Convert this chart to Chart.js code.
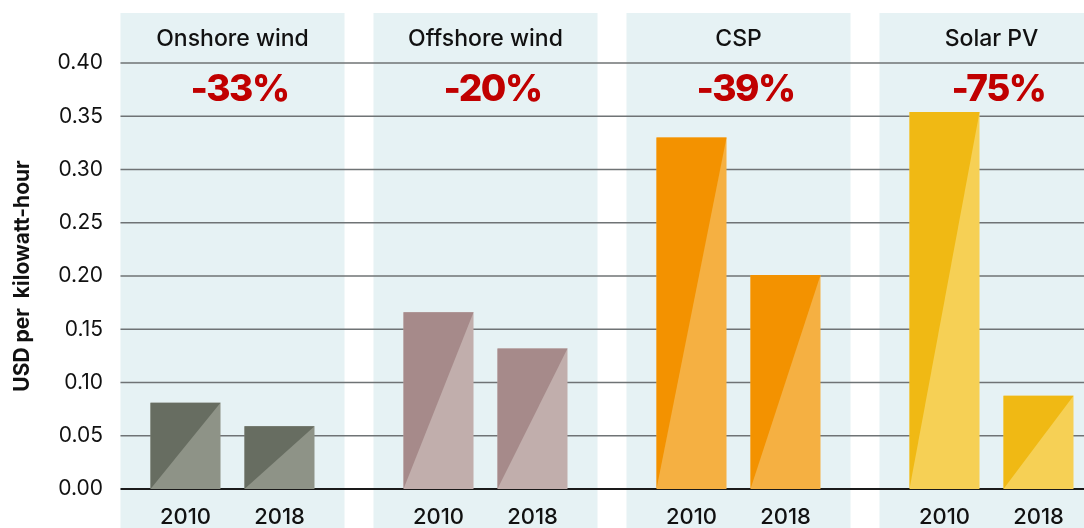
<!DOCTYPE html>
<html>
<head>
<meta charset="utf-8">
<script src="https://cdn.jsdelivr.net/npm/chart.js@4/dist/chart.umd.min.js"></script>
<style>
  html, body { margin: 0; padding: 0; background: #fff; overflow: hidden; }
  #wrap { width: 1118px; height: 528px; }
</style>
</head>
<body>
<div id="wrap"><canvas id="lcoe" width="1118" height="528"></canvas></div>
<script>
// ── DATA ───────────────────────────────────
const techs      = ['Onshore wind', 'Offshore wind', 'CSP', 'Solar PV'];
const years      = ['2010', '2018'];
const cost2010   = [0.081, 0.166, 0.330, 0.354];
const cost2018   = [0.059, 0.132, 0.201, 0.0875];
const changes    = ['-33%', '-20%', '-39%', '-75%'];
const yTicks     = [0, 0.05, 0.10, 0.15, 0.20, 0.25, 0.30, 0.35, 0.40];
const darkCols   = ['#676d61', '#a68a8a', '#f39200', '#f0b914'];
const lightCols  = ['#8e9387', '#c1aeac', '#f5b042', '#f6d055'];

const FONT = 'Inter, "Noto Sans", sans-serif';
const PANEL_FRAC = 224 / 253;

function panelHalf(x) {
  return (x.width / techs.length) * PANEL_FRAC / 2;
}

const decor = {
  id: 'decor',
  beforeDraw(chart) {
    const { ctx, scales: { x } } = chart;
    const half = panelHalf(x);
    ctx.save();
    ctx.fillStyle = '#e6f2f4';
    techs.forEach((t, i) => {
      const cx = x.getPixelForValue(i);
      ctx.fillRect(cx - half, 13, half * 2, chart.height - 13);
    });
    ctx.restore();
  },
  beforeDatasetsDraw(chart) {
    const { ctx, scales: { x, y } } = chart;
    const left = x.getPixelForValue(0) - panelHalf(x);
    ctx.save();
    yTicks.forEach(v => {
      const py = y.getPixelForValue(v);
      ctx.beginPath();
      ctx.strokeStyle = v === 0 ? '#1a1a1a' : '#6f7375';
      ctx.lineWidth = v === 0 ? 2 : 1.5;
      ctx.moveTo(left, py);
      ctx.lineTo(chart.width, py);
      ctx.stroke();
    });
    ctx.restore();
  },
  afterDatasetsDraw(chart) {
    const { ctx } = chart;
    ctx.save();
    chart.data.datasets.forEach((ds, di) => {
      chart.getDatasetMeta(di).data.forEach((el, i) => {
        const l = el.x - el.width / 2, r = el.x + el.width / 2;
        ctx.beginPath();
        ctx.moveTo(l, el.y);
        ctx.lineTo(r, el.y);
        ctx.lineTo(l, el.base);
        ctx.closePath();
        ctx.fillStyle = darkCols[i];
        ctx.fill();
      });
    });
    ctx.restore();
  },
  afterDraw(chart) {
    const { ctx, scales: { x } } = chart;
    ctx.save();
    ctx.textAlign = 'center';
    ctx.textBaseline = 'middle';
    techs.forEach((t, i) => {
      const cx = x.getPixelForValue(i);
      ctx.fillStyle = '#111';
      ctx.font = '500 23px ' + FONT;
      ctx.letterSpacing = '0px';
      ctx.fillText(t, cx, 39);
      ctx.fillStyle = '#c00000';
      ctx.font = '800 37px ' + FONT;
      ctx.letterSpacing = '-1.5px';
      ctx.fillText(changes[i], cx + 7, 90);
    });
    ctx.fillStyle = '#111';
    ctx.font = '500 22px ' + FONT;
    ctx.letterSpacing = '0px';
    chart.data.datasets.forEach((ds, di) => {
      chart.getDatasetMeta(di).data.forEach(el => {
        ctx.fillText(ds.label, el.x, 517);
      });
    });
    ctx.restore();
  }
};

new Chart(document.getElementById('lcoe'), {
  type: 'bar',
  data: {
    labels: techs,
    datasets: [
      { label: years[0], data: cost2010, backgroundColor: lightCols },
      { label: years[1], data: cost2018, backgroundColor: lightCols }
    ]
  },
  options: {
    responsive: false,
    animation: false,
    layout: { padding: { top: 63, bottom: 39, left: 0, right: 0 } },
    datasets: { bar: { categoryPercentage: 0.743, barPercentage: 0.745 } },
    plugins: { legend: { display: false }, tooltip: { enabled: false } },
    scales: {
      x: { display: false },
      y: {
        min: 0, max: 0.40,
        afterBuildTicks: s => { s.ticks = yTicks.map(v => ({ value: v })); },
        afterFit: s => { s.width = 106; },
        grid: { display: false, drawTicks: false },
        border: { display: false },
        ticks: {
          color: '#111', padding: 3,
          font: { family: FONT, size: 21, weight: '400' },
          callback: v => Number(v).toFixed(2)
        },
        title: {
          display: true, text: 'USD per  kilowatt-hour', color: '#111',
          font: { family: FONT, size: 21, weight: '700' },
          padding: { top: 10, bottom: 0 }
        }
      }
    }
  },
  plugins: [decor]
});
</script>
</body>
</html>
